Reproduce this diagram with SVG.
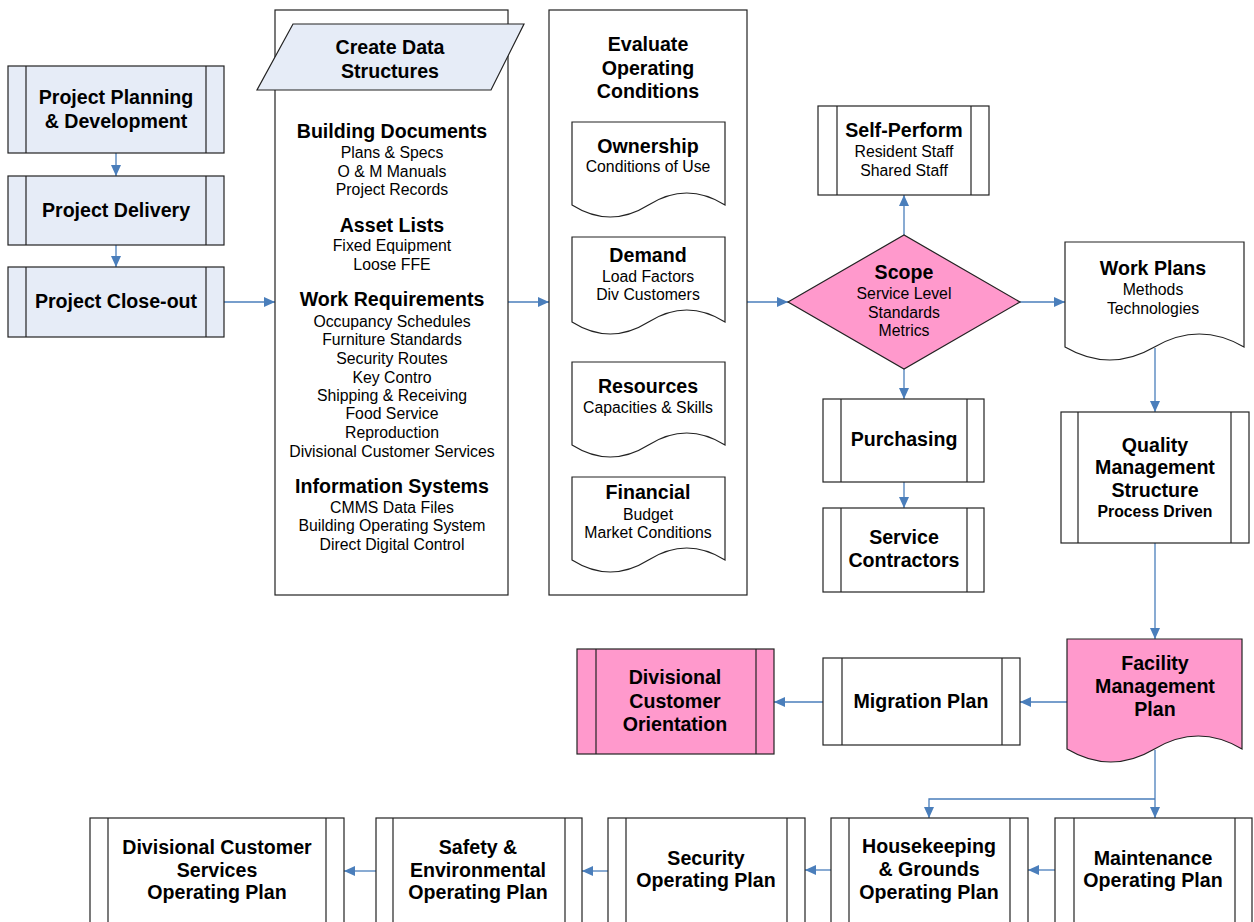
<svg xmlns="http://www.w3.org/2000/svg" width="1254" height="922" viewBox="0 0 1254 922">
<defs>
<marker id="ah" markerUnits="userSpaceOnUse" markerWidth="12" markerHeight="10" refX="11" refY="5" orient="auto">
<path d="M0,0 L11,5 L0,10 Z" fill="#4A7EBB"/>
</marker>
<style>
.b{fill:#fff;stroke:#222;stroke-width:1.2}
.bl{fill:#E6ECF7;stroke:#222;stroke-width:1.2}
.pk{fill:#FF99CC;stroke:#222;stroke-width:1.2}
.ln{fill:none;stroke:#222;stroke-width:1.2}
.c{fill:none;stroke:#4A7EBB;stroke-width:1.3;marker-end:url(#ah)}
.cn{fill:none;stroke:#4A7EBB;stroke-width:1.3}
text{font-family:"Liberation Sans",Arial,sans-serif;text-anchor:middle;fill:#000}
.h{font-size:19.6px;font-weight:bold}
.s{font-size:15.8px}
.sb{font-size:15.8px;font-weight:bold}
</style>
</defs>
<rect width="1254" height="922" fill="#fff"/>

<g id="connectors">
<line class="c" x1="116" y1="153" x2="116" y2="176"/>
<line class="c" x1="116" y1="245" x2="116" y2="267"/>
<line class="c" x1="224" y1="302" x2="275" y2="302"/>
<line class="c" x1="508" y1="302" x2="549" y2="302"/>
<line class="c" x1="747" y1="302" x2="788" y2="302"/>
<line class="c" x1="904" y1="235" x2="904" y2="195"/>
<line class="c" x1="904" y1="369" x2="904" y2="399"/>
<line class="c" x1="904" y1="482" x2="904" y2="508"/>
<line class="c" x1="1020" y1="302" x2="1065" y2="302"/>
<line class="c" x1="1155" y1="348" x2="1155" y2="412"/>
<line class="c" x1="1155" y1="543" x2="1155" y2="639"/>
<line class="c" x1="1067" y1="702" x2="1020" y2="702"/>
<line class="c" x1="823" y1="702" x2="774" y2="702"/>
<line class="c" x1="1155" y1="750" x2="1155" y2="818"/>
<polyline class="c" points="1155,799 929,799 929,818"/>
<line class="c" x1="1055" y1="870" x2="1028" y2="870"/>
<line class="c" x1="831" y1="870" x2="805" y2="870"/>
<line class="c" x1="608" y1="871" x2="582" y2="871"/>
<line class="c" x1="376" y1="871" x2="344" y2="871"/>
</g>

<g id="project-planning">
<rect class="bl" x="8" y="66" width="216" height="87"/>
<line class="ln" x1="26" y1="66" x2="26" y2="153"/><line class="ln" x1="206" y1="66" x2="206" y2="153"/>
<text class="h" x="116" y="104">Project Planning</text>
<text class="h" x="116" y="128">&amp; Development</text>
</g>
<g id="project-delivery">
<rect class="bl" x="8" y="176" width="216" height="69"/>
<line class="ln" x1="26" y1="176" x2="26" y2="245"/><line class="ln" x1="206" y1="176" x2="206" y2="245"/>
<text class="h" x="116" y="217">Project Delivery</text>
</g>
<g id="project-closeout">
<rect class="bl" x="8" y="267" width="216" height="70"/>
<line class="ln" x1="26" y1="267" x2="26" y2="337"/><line class="ln" x1="206" y1="267" x2="206" y2="337"/>
<text class="h" x="116" y="308">Project Close-out</text>
</g>

<g id="data-structures">
<rect class="b" x="275" y="10" width="233" height="585"/>
<polygon class="bl" points="293,24 524,24 491,90 257,90"/>
<text class="h" x="390" y="54">Create Data</text>
<text class="h" x="390" y="78">Structures</text>
<text class="h" x="392" y="138">Building Documents</text>
<text class="s" x="392" y="158">Plans &amp; Specs</text>
<text class="s" x="392" y="177">O &amp; M Manuals</text>
<text class="s" x="392" y="195">Project Records</text>
<text class="h" x="392" y="232">Asset Lists</text>
<text class="s" x="392" y="251">Fixed Equipment</text>
<text class="s" x="392" y="270">Loose FFE</text>
<text class="h" x="392" y="306">Work Requirements</text>
<text class="s" x="392" y="327">Occupancy Schedules</text>
<text class="s" x="392" y="345">Furniture Standards</text>
<text class="s" x="392" y="364">Security Routes</text>
<text class="s" x="392" y="383">Key Contro</text>
<text class="s" x="392" y="401">Shipping &amp; Receiving</text>
<text class="s" x="392" y="419">Food Service</text>
<text class="s" x="392" y="438">Reproduction</text>
<text class="s" x="392" y="457">Divisional Customer Services</text>
<text class="h" x="392" y="493">Information Systems</text>
<text class="s" x="392" y="513">CMMS Data Files</text>
<text class="s" x="392" y="531">Building Operating System</text>
<text class="s" x="392" y="550">Direct Digital Control</text>
</g>

<g id="operating-conditions">
<rect class="b" x="549" y="10" width="198" height="585"/>
<text class="h" x="648" y="51">Evaluate</text>
<text class="h" x="648" y="75">Operating</text>
<text class="h" x="648" y="98">Conditions</text>
</g>
<g id="ownership">
<path class="b" d="M572,122 H725 V205 Q686.75,181 648.5,205 T572,205 Z"/>
<text class="h" x="648" y="153">Ownership</text>
<text class="s" x="648" y="172">Conditions of Use</text>
</g>
<g id="demand">
<path class="b" d="M572,237 H725 V322 Q686.75,298 648.5,322 T572,322 Z"/>
<text class="h" x="648" y="262">Demand</text>
<text class="s" x="648" y="282">Load Factors</text>
<text class="s" x="648" y="300">Div  Customers</text>
</g>
<g id="resources">
<path class="b" d="M572,362 H725 V445 Q686.75,421 648.5,445 T572,445 Z"/>
<text class="h" x="648" y="393">Resources</text>
<text class="s" x="648" y="413">Capacities &amp; Skills</text>
</g>
<g id="financial">
<path class="b" d="M572,477 H725 V560 Q686.75,536 648.5,560 T572,560 Z"/>
<text class="h" x="648" y="499">Financial</text>
<text class="s" x="648" y="520">Budget</text>
<text class="s" x="648" y="538">Market Conditions</text>
</g>

<g id="scope">
<polygon class="pk" points="788,302 904,235 1020,302 904,369"/>
<text class="h" x="904" y="279">Scope</text>
<text class="s" x="904" y="299">Service Level</text>
<text class="s" x="904" y="318">Standards</text>
<text class="s" x="904" y="336">Metrics</text>
</g>

<g id="self-perform">
<rect class="b" x="818" y="106" width="171" height="89"/>
<line class="ln" x1="837" y1="106" x2="837" y2="195"/><line class="ln" x1="971" y1="106" x2="971" y2="195"/>
<text class="h" x="904" y="137">Self-Perform</text>
<text class="s" x="904" y="157">Resident Staff</text>
<text class="s" x="904" y="176">Shared Staff</text>
</g>

<g id="purchasing">
<rect class="b" x="823" y="399" width="161" height="83"/>
<line class="ln" x1="841" y1="399" x2="841" y2="482"/><line class="ln" x1="967" y1="399" x2="967" y2="482"/>
<text class="h" x="904" y="446">Purchasing</text>
</g>
<g id="service-contractors">
<rect class="b" x="823" y="508" width="161" height="84"/>
<line class="ln" x1="841" y1="508" x2="841" y2="592"/><line class="ln" x1="967" y1="508" x2="967" y2="592"/>
<text class="h" x="904" y="544">Service</text>
<text class="h" x="904" y="567">Contractors</text>
</g>

<g id="work-plans">
<path class="b" d="M1065,242 H1244 V347 Q1199.25,321 1154.5,347 T1065,347 Z"/>
<text class="h" x="1153" y="275">Work Plans</text>
<text class="s" x="1153" y="295">Methods</text>
<text class="s" x="1153" y="314">Technologies</text>
</g>

<g id="quality-management">
<rect class="b" x="1061" y="412" width="188" height="131"/>
<line class="ln" x1="1078" y1="412" x2="1078" y2="543"/><line class="ln" x1="1231" y1="412" x2="1231" y2="543"/>
<text class="h" x="1155" y="452">Quality</text>
<text class="h" x="1155" y="474">Management</text>
<text class="h" x="1155" y="497">Structure</text>
<text class="sb" x="1155" y="517">Process Driven</text>
</g>

<g id="facility-management-plan">
<path class="pk" d="M1067,639 H1242 V749 Q1198.25,723 1154.5,749 T1067,749 Z"/>
<text class="h" x="1155" y="670">Facility</text>
<text class="h" x="1155" y="693">Management</text>
<text class="h" x="1155" y="716">Plan</text>
</g>

<g id="migration-plan">
<rect class="b" x="823" y="658" width="197" height="87"/>
<line class="ln" x1="842" y1="658" x2="842" y2="745"/><line class="ln" x1="1002" y1="658" x2="1002" y2="745"/>
<text class="h" x="921" y="708">Migration Plan</text>
</g>

<g id="divisional-customer-orientation">
<rect class="pk" x="577" y="649" width="197" height="105"/>
<line class="ln" x1="596" y1="649" x2="596" y2="754"/><line class="ln" x1="756" y1="649" x2="756" y2="754"/>
<text class="h" x="675" y="684">Divisional</text>
<text class="h" x="675" y="708">Customer</text>
<text class="h" x="675" y="731">Orientation</text>
</g>

<g id="maintenance">
<rect class="b" x="1055" y="818" width="197" height="110"/>
<line class="ln" x1="1074" y1="818" x2="1074" y2="928"/><line class="ln" x1="1235" y1="818" x2="1235" y2="928"/>
<text class="h" x="1153" y="865">Maintenance</text>
<text class="h" x="1153" y="887">Operating Plan</text>
</g>
<g id="housekeeping">
<rect class="b" x="831" y="818" width="197" height="110"/>
<line class="ln" x1="849" y1="818" x2="849" y2="928"/><line class="ln" x1="1010" y1="818" x2="1010" y2="928"/>
<text class="h" x="929" y="853">Housekeeping</text>
<text class="h" x="929" y="876">&amp; Grounds</text>
<text class="h" x="929" y="899">Operating Plan</text>
</g>
<g id="security">
<rect class="b" x="608" y="818" width="197" height="110"/>
<line class="ln" x1="626" y1="818" x2="626" y2="928"/><line class="ln" x1="787" y1="818" x2="787" y2="928"/>
<text class="h" x="706" y="865">Security</text>
<text class="h" x="706" y="887">Operating Plan</text>
</g>
<g id="safety-environmental">
<rect class="b" x="376" y="818" width="206" height="110"/>
<line class="ln" x1="393" y1="818" x2="393" y2="928"/><line class="ln" x1="565" y1="818" x2="565" y2="928"/>
<text class="h" x="478" y="854">Safety &amp;</text>
<text class="h" x="478" y="877">Environmental</text>
<text class="h" x="478" y="899">Operating Plan</text>
</g>
<g id="divisional-customer-services">
<rect class="b" x="90" y="818" width="254" height="110"/>
<line class="ln" x1="108" y1="818" x2="108" y2="928"/><line class="ln" x1="326" y1="818" x2="326" y2="928"/>
<text class="h" x="217" y="854">Divisional Customer</text>
<text class="h" x="217" y="877">Services</text>
<text class="h" x="217" y="899">Operating Plan</text>
</g>
</svg>
